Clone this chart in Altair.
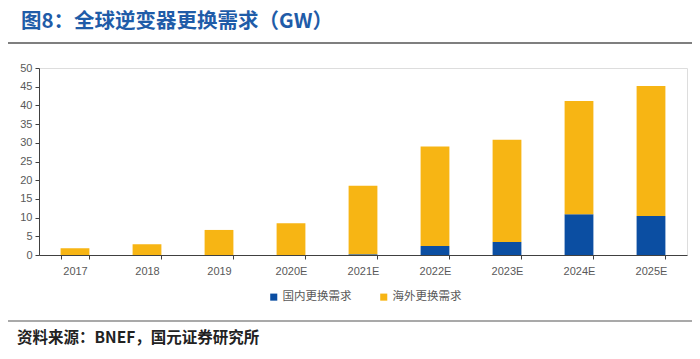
import altair as alt
import pandas as pd

years = ["2017", "2018", "2019", "2020E", "2021E", "2022E", "2023E", "2024E", "2025E"]
domestic = [0, 0, 0, 0, 0.2, 2.4, 3.5, 10.9, 10.4]
overseas = [1.8, 2.9, 6.7, 8.5, 18.3, 26.6, 27.3, 30.3, 34.8]
series = ["国内更换需求", "海外更换需求"]
colors = ["#0B4EA2", "#F7B514"]

title_text = "图8：全球逆变器更换需求（GW）"
source_text = "资料来源：BNEF，国元证券研究所"

rows = []
for i, y in enumerate(years):
    rows.append({"year": y, "series": series[0], "value": domestic[i], "ord": 0})
    rows.append({"year": y, "series": series[1], "value": overseas[i], "ord": 1})
df = pd.DataFrame(rows)

W, H = 648, 187
font = "Noto Sans CJK SC"

bars = alt.Chart(df).mark_bar().encode(
    x=alt.X("year:N", sort=years, title=None,
            scale=alt.Scale(paddingInner=0.6, paddingOuter=0.3),
            axis=alt.Axis(labelAngle=0, tickBand="extent", labelFontSize=11,
                          labelColor="#595959", domainColor="#404040",
                          tickColor="#404040", tickSize=4, labelPadding=6,
                          labelFont="Liberation Sans")),
    y=alt.Y("value:Q", stack="zero", title=None,
            scale=alt.Scale(domain=[0, 50]),
            axis=alt.Axis(values=list(range(0, 51, 5)), grid=False,
                          labelFontSize=11, labelColor="#595959",
                          domainColor="#404040", tickColor="#404040",
                          tickSize=4, labelPadding=3, labelFont="Liberation Sans")),
    color=alt.Color("series:N", sort=series,
                    scale=alt.Scale(domain=series, range=colors),
                    legend=alt.Legend(title=None, orient="none", direction="horizontal",
                                      legendX=229, legendY=223, symbolType="square",
                                      symbolSize=50, symbolStrokeWidth=0,
                                      labelFontSize=11.5, labelColor="#595959",
                                      labelFont=font, columnPadding=26, labelOffset=3)),
    order=alt.Order("ord:Q"),
)

title = alt.Chart(pd.DataFrame({"t": [title_text]})).mark_text(
    align="left", baseline="middle", fontSize=20.5, fontWeight="bold",
    color="#1F5CA8", font=font
).encode(x=alt.value(-18), y=alt.value(-46), text="t:N")

title_rule = alt.Chart(pd.DataFrame({"a": [0]})).mark_rule(
    color="#555555", strokeWidth=1.5
).encode(x=alt.value(-36), x2=alt.value(W + 5), y=alt.value(-25))

source_rule = alt.Chart(pd.DataFrame({"a": [0]})).mark_rule(
    color="#555555", strokeWidth=1.2
).encode(x=alt.value(-36), x2=alt.value(W + 5), y=alt.value(253))

source = alt.Chart(pd.DataFrame({"t": [source_text]})).mark_text(
    align="left", baseline="middle", fontSize=15.5, fontWeight="bold",
    color="#222222", font=font
).encode(x=alt.value(-22), y=alt.value(270), text="t:N")

chart = alt.layer(bars, title, title_rule, source_rule, source).properties(
    width=W, height=H,
    autosize=alt.AutoSizeParams(type="none"),
    padding={"left": 31, "top": 60, "right": 5, "bottom": 95},
).configure_view(stroke=None).configure(background="white")

chart.save("out.html", embed_options={"renderer": "svg", "actions": False})
